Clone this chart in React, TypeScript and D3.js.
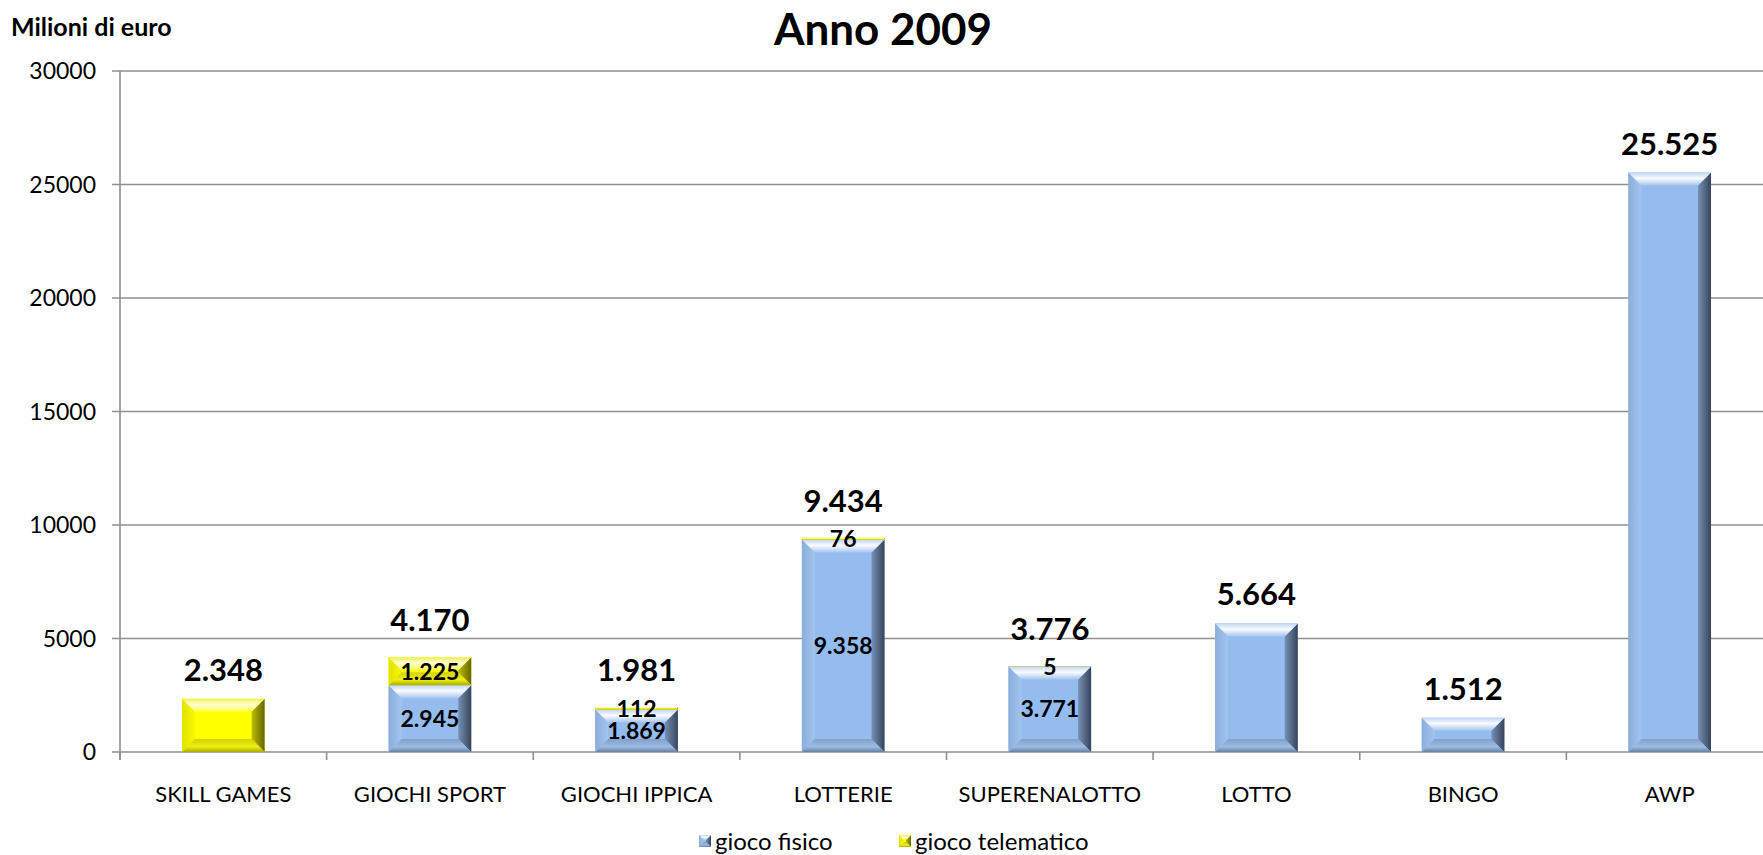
import React from "react";
import * as d3 from "d3";

const categories = ["SKILL GAMES", "GIOCHI SPORT", "GIOCHI IPPICA", "LOTTERIE", "SUPERENALOTTO", "LOTTO", "BINGO", "AWP"];
const giocoFisico = [0, 2945, 1869, 9358, 3771, 5664, 1512, 25525];
const giocoTelematico = [2348, 1225, 112, 76, 5, 0, 0, 0];
const yTicks = [0, 5000, 10000, 15000, 20000, 25000, 30000];
const seriesNames = ["gioco fisico", "gioco telematico"];

const W = 1763;
const H = 855;
const FONT = "Lato, 'Open Sans', sans-serif";

const itLocale = d3.formatLocale({ decimal: ",", thousands: ".", grouping: [3], currency: ["€", ""] });
const fmt = itLocale.format(",d");

type Scheme = { id: string; main: string; top: string[]; right: string[]; bottom: string[]; left: string[] };
const schemes: Scheme[] = [
  { id: "blue", main: "#94bcee", top: ["#c0d6f4", "#f9fbff", "#a5c5ef"], right: ["#7690b5", "#36445a"], bottom: ["#819fca", "#9dbce4", "#66809f"], left: ["#8badda", "#a4c4ef"] },
  { id: "yellow", main: "#ffff00", top: ["#f0f050", "#ffffd8", "#ffff40"], right: ["#bcbc00", "#666600"], bottom: ["#d2d200", "#eeee10", "#aaaa00"], left: ["#e2e200", "#f8f800"] },
];

function Defs() {
  return (
    <defs>
      {schemes.map((s) => (
        <React.Fragment key={s.id}>
          <linearGradient id={`${s.id}-top`} x1="0" y1="0" x2="0" y2="1">
            <stop offset="0" stopColor={s.top[0]} />
            <stop offset="0.45" stopColor={s.top[1]} />
            <stop offset="1" stopColor={s.top[2]} />
          </linearGradient>
          <linearGradient id={`${s.id}-right`} x1="0" y1="0" x2="1" y2="0">
            <stop offset="0" stopColor={s.right[0]} />
            <stop offset="1" stopColor={s.right[1]} />
          </linearGradient>
          <linearGradient id={`${s.id}-bottom`} x1="0" y1="0" x2="0" y2="1">
            <stop offset="0" stopColor={s.bottom[0]} />
            <stop offset="0.6" stopColor={s.bottom[1]} />
            <stop offset="1" stopColor={s.bottom[2]} />
          </linearGradient>
          <linearGradient id={`${s.id}-left`} x1="0" y1="0" x2="1" y2="0">
            <stop offset="0" stopColor={s.left[0]} />
            <stop offset="1" stopColor={s.left[1]} />
          </linearGradient>
        </React.Fragment>
      ))}
    </defs>
  );
}

function BevelRect({ x, y, w, h, s, maxB = 13 }: { x: number; y: number; w: number; h: number; s: Scheme; maxB?: number }) {
  if (h <= 0) return null;
  const b = Math.min(maxB, h / 2, w / 2);
  const pts = (arr: number[][]) => arr.map((p) => p.join(",")).join(" ");
  return (
    <g>
      <rect x={x} y={y} width={w} height={h} fill={s.main} />
      <polygon points={pts([[x, y], [x + b, y + b], [x + b, y + h - b], [x, y + h]])} fill={`url(#${s.id}-left)`} />
      <polygon points={pts([[x + w, y], [x + w, y + h], [x + w - b, y + h - b], [x + w - b, y + b]])} fill={`url(#${s.id}-right)`} />
      <polygon points={pts([[x, y + h], [x + w, y + h], [x + w - b, y + h - b], [x + b, y + h - b]])} fill={`url(#${s.id}-bottom)`} />
      <polygon points={pts([[x, y], [x + w, y], [x + w - b, y + b], [x + b, y + b]])} fill={`url(#${s.id}-top)`} />
    </g>
  );
}

export default function App() {
  const left = 120;
  const right = 1773;
  const baseY = 752;
  const topY = 71;

  const x = d3.scaleBand<string>().domain(categories).range([left, right]).paddingInner(0.6).paddingOuter(0.3);
  const y = d3.scaleLinear().domain([0, 30000]).range([baseY, topY]);
  const step = x.step();

  const data = categories.map((c, i) => ({ c, f: giocoFisico[i], t: giocoTelematico[i], total: giocoFisico[i] + giocoTelematico[i] }));
  const stack = d3.stack<any>().keys(["f", "t"])(data as any);

  return (
    <svg width={W} height={H} style={{ position: "absolute", left: 0, top: 0, background: "#fff" }} fontFamily={FONT}>
      <Defs />
      <rect x={0} y={0} width={W} height={H} fill="#fff" />
      {yTicks.map((t) => (
        <g key={t}>
          <line x1={left - 8} x2={right} y1={y(t)} y2={y(t)} stroke="#8f8f8f" strokeWidth={1.6} />
          <text x={96} y={y(t)} dy="0.36em" textAnchor="end" fontSize={23} fill="#000">
            {t}
          </text>
        </g>
      ))}
      <line x1={left} x2={left} y1={topY} y2={baseY + 8} stroke="#8f8f8f" strokeWidth={1.6} />
      {d3.range(categories.length + 1).map((i) => (
        <line key={i} x1={left + i * step} x2={left + i * step} y1={baseY} y2={baseY + 8} stroke="#8f8f8f" strokeWidth={1.6} />
      ))}
      {stack.map((layer, li) =>
        layer.map((d, i) => {
          const v = d[1] - d[0];
          if (v <= 0) return null;
          const y0 = y(d[0]);
          const y1 = y(d[1]);
          return <BevelRect key={`${li}-${i}`} x={x(categories[i])!} y={y1} w={x.bandwidth()} h={y0 - y1} s={schemes[li]} />;
        })
      )}
      {stack.map((layer, li) =>
        layer.map((d, i) => {
          const dd = data[i];
          if (!(dd.f > 0 && dd.t > 0)) return null;
          const v = d[1] - d[0];
          const cy = (y(d[0]) + y(d[1])) / 2;
          return (
            <text key={`l${li}-${i}`} x={x(categories[i])! + x.bandwidth() / 2} y={cy} dy="0.36em" textAnchor="middle" fontSize={23} fontWeight={700} fill="#000">
              {fmt(v)}
            </text>
          );
        })
      )}
      {data.map((d, i) => {
        const stacked = d.f > 0 && d.t > 0;
        return (
          <text key={`t${i}`} x={x(d.c)! + x.bandwidth() / 2} y={y(d.total) - (stacked ? 26 : 18)} textAnchor="middle" fontSize={31} fontWeight={700} fill="#000">
            {fmt(d.total)}
          </text>
        );
      })}
      {categories.map((c) => (
        <text key={c} x={x(c)! + x.bandwidth() / 2} y={802} textAnchor="middle" fontSize={22} fill="#000">
          {c}
        </text>
      ))}
      <text x={883} y={45} textAnchor="middle" fontSize={44} fontWeight={700} fill="#000">
        Anno 2009
      </text>
      <text x={11} y={36} fontSize={25} fontWeight={700} fill="#000">
        Milioni di euro
      </text>
      {seriesNames.map((n, i) => {
        const lx = i === 0 ? 699 : 899;
        return (
          <g key={n}>
            <BevelRect x={lx} y={835} w={12} h={12} s={schemes[i]} maxB={5} />
            <text x={lx + 16} y={841} dy="0.36em" fontSize={24} fill="#000">
              {n}
            </text>
          </g>
        );
      })}
    </svg>
  );
}
